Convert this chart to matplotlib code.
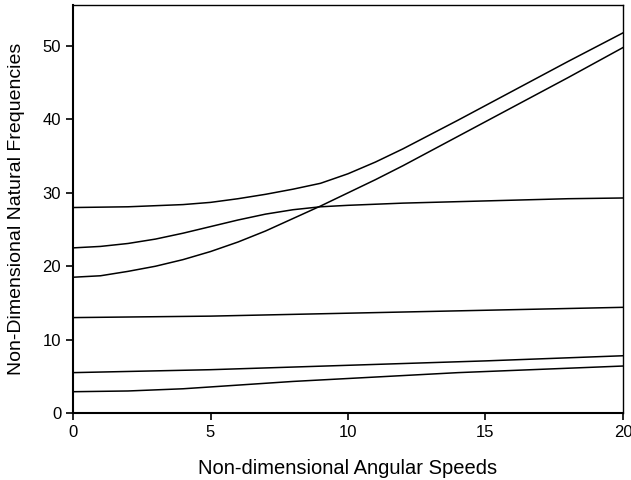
import matplotlib
matplotlib.use('Agg')
import matplotlib.pyplot as plt

plt.rcParams['font.family'] = ['Liberation Sans', 'DejaVu Sans']

# 무차원 각속도 / 고유진동수
x1 = [0, 2, 4, 6, 8, 10, 12, 14, 16, 18, 20]
f1 = [2.9, 3.0, 3.3, 3.8, 4.3, 4.7, 5.1, 5.5, 5.8, 6.1, 6.4]
x2 = [0, 5, 10, 15, 20]
f2 = [5.5, 5.9, 6.5, 7.1, 7.8]
f3 = [13.0, 13.2, 13.6, 14.0, 14.4]
x4 = [0, 1, 2, 3, 4, 5, 6, 7, 8, 9, 10, 11, 12, 14, 16, 18, 20]
f4 = [18.5, 18.7, 19.3, 20.0, 20.9, 22.0, 23.3, 24.8, 26.5, 28.2, 30.0, 31.8, 33.7, 37.7, 41.7, 45.7, 49.8]
x5 = [0, 1, 2, 3, 4, 5, 6, 7, 8, 9, 10, 12, 14, 16, 18, 20]
f5 = [22.5, 22.7, 23.1, 23.7, 24.5, 25.4, 26.3, 27.1, 27.7, 28.1, 28.3, 28.6, 28.8, 29.0, 29.2, 29.3]
x6 = [0, 2, 4, 5, 6, 7, 8, 9, 10, 11, 12, 14, 16, 18, 20]
f6 = [28.0, 28.1, 28.4, 28.7, 29.2, 29.8, 30.5, 31.3, 32.6, 34.2, 36.0, 39.9, 43.9, 47.9, 51.8]

fig = plt.figure(figsize=(6.31, 4.80), dpi=100)
ax = fig.add_axes([0.1157, 0.1396, 0.8716, 0.85])

for xs, ys in [(x1, f1), (x2, f2), (x2, f3), (x4, f4), (x5, f5), (x6, f6)]:
    ax.plot(xs, ys, color='black', lw=1.1)

ax.set_xlim(0, 20)
ax.set_ylim(0, 55.6)
ax.set_xticks([0, 5, 10, 15, 20])
ax.set_yticks([0, 10, 20, 30, 40, 50])
ax.tick_params(direction='out', length=5, width=1.2, labelsize=12, top=False, right=False)
for s in ['left', 'bottom']:
    ax.spines[s].set_linewidth(1.5)
for s in ['top', 'right']:
    ax.spines[s].set_linewidth(1.0)

ax.set_xlabel('Non-dimensional Angular Speeds', fontsize=14.5, labelpad=14)
ax.set_ylabel('Non-Dimensional Natural Frequencies', fontsize=14, labelpad=13)

plt.savefig('out.png', dpi=100)
